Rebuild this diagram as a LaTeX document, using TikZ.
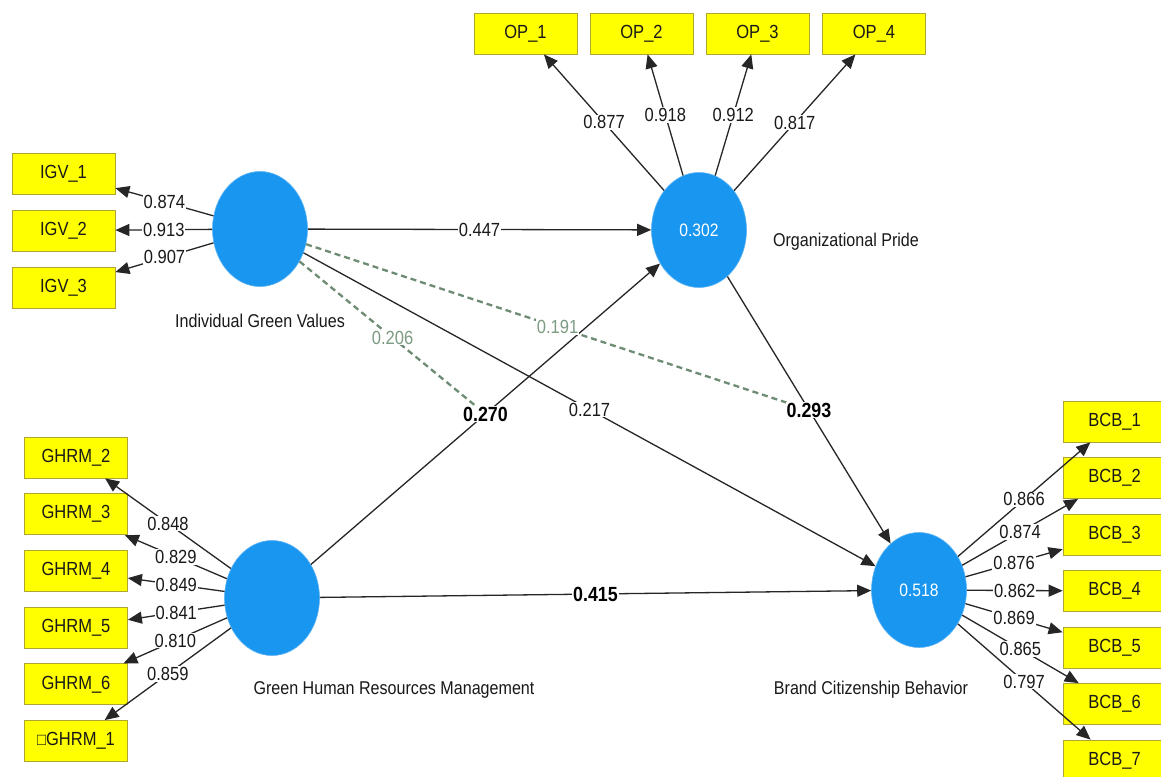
\documentclass[tikz,border=0pt]{standalone}
\usepackage{fontspec}
\setmainfont{Liberation Sans}[FakeStretch=0.87]
\usetikzlibrary{arrows.meta,shapes.geometric}
\definecolor{lvblue}{RGB}{25,150,240}
\definecolor{mvyellow}{RGB}{255,255,0}
\definecolor{mvborder}{RGB}{175,165,50}
\definecolor{modgreen}{RGB}{110,140,115}
\definecolor{modtext}{RGB}{125,155,130}
\begin{document}
\begin{tikzpicture}[x=1pt,y=-1pt,
  lv/.style={ellipse, fill=lvblue, draw=lvblue!70!white, line width=0.6pt, minimum width=95pt, minimum height=115pt, inner sep=0pt, text=white, font=\fontsize{18}{20}\selectfont},
  mv/.style={rectangle, fill=mvyellow, draw=mvborder, line width=0.8pt, minimum width=103pt, minimum height=41pt, inner sep=0pt, text=black!90, font=\fontsize{19}{20}\selectfont},
  conn/.style={draw=black!85, line width=1.3pt, -{Triangle[length=14pt,width=12pt]}},
  lbl/.style={fill=white, inner sep=1pt, text=black!90, font=\fontsize{19}{20}\selectfont},
  blbl/.style={fill=white, inner sep=1pt, font=\bfseries\fontsize{20.5}{22}\selectfont},
  mlbl/.style={fill=white, inner sep=1pt, text=modtext, font=\fontsize{19}{20}\selectfont},
  modline/.style={draw=modgreen, line width=2.3pt, dash pattern=on 6pt off 4pt},
  lvname/.style={text=black!90, font=\fontsize{18.5}{20}\selectfont}
]
\useasboundingbox[fill=white] (0,0) rectangle (1161,776);

% latent variables
\node[lv] (igv) at (260,229) {};
\node[lv] (op) at (699,230) {0.302};
\node[lv] (ghrm) at (272,598) {};
\node[lv] (bcb) at (919,590) {0.518};

\node[lvname] at (260,321) {Individual Green Values};
\node[lvname] at (846,242) {Organizational Pride};
\node[lvname] at (394,690) {Green Human Resources Management};
\node[lvname] at (871,690) {Brand Citizenship Behavior};

% indicators
\node[mv] (igv1) at (63.5,173.5) {IGV\_1};
\node[mv] (igv2) at (63.5,230.5) {IGV\_2};
\node[mv] (igv3) at (63.5,287.5) {IGV\_3};

\node[mv] (op1) at (525.5,33.5) {OP\_1};
\node[mv] (op2) at (641.5,33.5) {OP\_2};
\node[mv] (op3) at (757.5,33.5) {OP\_3};
\node[mv] (op4) at (874,33.5) {OP\_4};

\node[mv] (gh2) at (76,457.5) {GHRM\_2};
\node[mv] (gh3) at (76,514.2) {GHRM\_3};
\node[mv] (gh4) at (76,570.9) {GHRM\_4};
\node[mv] (gh5) at (76,627.6) {GHRM\_5};
\node[mv] (gh6) at (76,684.3) {GHRM\_6};
\node[mv] (gh1) at (76,741) {{\fontsize{17}{18}\selectfont □}GHRM\_1};

\node[mv] (b1) at (1114.5,421.5) {BCB\_1};
\node[mv] (b2) at (1114.5,478) {BCB\_2};
\node[mv] (b3) at (1114.5,534.5) {BCB\_3};
\node[mv] (b4) at (1114.5,591) {BCB\_4};
\node[mv] (b5) at (1114.5,647.5) {BCB\_5};
\node[mv] (b6) at (1114.5,704) {BCB\_6};
\node[mv] (b7) at (1114.5,760.5) {BCB\_7};

% moderation end points
\path (ghrm) -- coordinate[midway] (m1) (op);
\path (op) -- coordinate[midway] (m2) (bcb);

% moderating effects (dashed)
\draw[modline] (igv) -- (m1);
\draw[modline] (igv) -- (m2);

% outer loadings
\foreach \t in {igv1,igv2,igv3} \draw[conn] (igv) -- (\t);
\foreach \t in {op1,op2,op3,op4} \draw[conn] (op) -- (\t);
\foreach \t in {gh1,gh2,gh3,gh4,gh5,gh6} \draw[conn] (ghrm) -- (\t);
\foreach \t in {b1,b2,b3,b4,b5,b6,b7} \draw[conn] (bcb) -- (\t);

% structural paths
\draw[conn] (igv) -- (op);
\draw[conn] (ghrm) -- (op);
\draw[conn] (igv) -- (bcb);
\draw[conn] (op) -- (bcb);
\draw[conn] (ghrm) -- (bcb);

% labels
\path (igv) -- node[lbl]{0.874} (igv1);
\path (igv) -- node[lbl]{0.913} (igv2);
\path (igv) -- node[lbl]{0.907} (igv3);

\path (op) -- node[lbl]{0.877} (op1);
\path (op) -- node[lbl]{0.918} (op2);
\path (op) -- node[lbl]{0.912} (op3);
\path (op) -- node[lbl]{0.817} (op4);

\path (ghrm) -- node[lbl]{0.848} (gh2);
\path (ghrm) -- node[lbl]{0.829} (gh3);
\path (ghrm) -- node[lbl]{0.849} (gh4);
\path (ghrm) -- node[lbl]{0.841} (gh5);
\path (ghrm) -- node[lbl]{0.810} (gh6);
\path (ghrm) -- node[lbl]{0.859} (gh1);

\path (bcb) -- node[lbl]{0.866} (b1);
\path (bcb) -- node[lbl]{0.874} (b2);
\path (bcb) -- node[lbl]{0.876} (b3);
\path (bcb) -- node[lbl]{0.862} (b4);
\path (bcb) -- node[lbl]{0.869} (b5);
\path (bcb) -- node[lbl]{0.865} (b6);
\path (bcb) -- node[lbl]{0.797} (b7);

\path (igv) -- node[mlbl]{0.206} (m1);
\path (igv) -- node[mlbl]{0.191} (m2);

\path (igv) -- node[lbl]{0.447} (op);
\path (ghrm) -- node[blbl]{0.270} (op);
\path (igv) -- node[lbl]{0.217} (bcb);
\path (op) -- node[blbl]{0.293} (bcb);
\path (ghrm) -- node[blbl]{0.415} (bcb);
\end{tikzpicture}
\end{document}
